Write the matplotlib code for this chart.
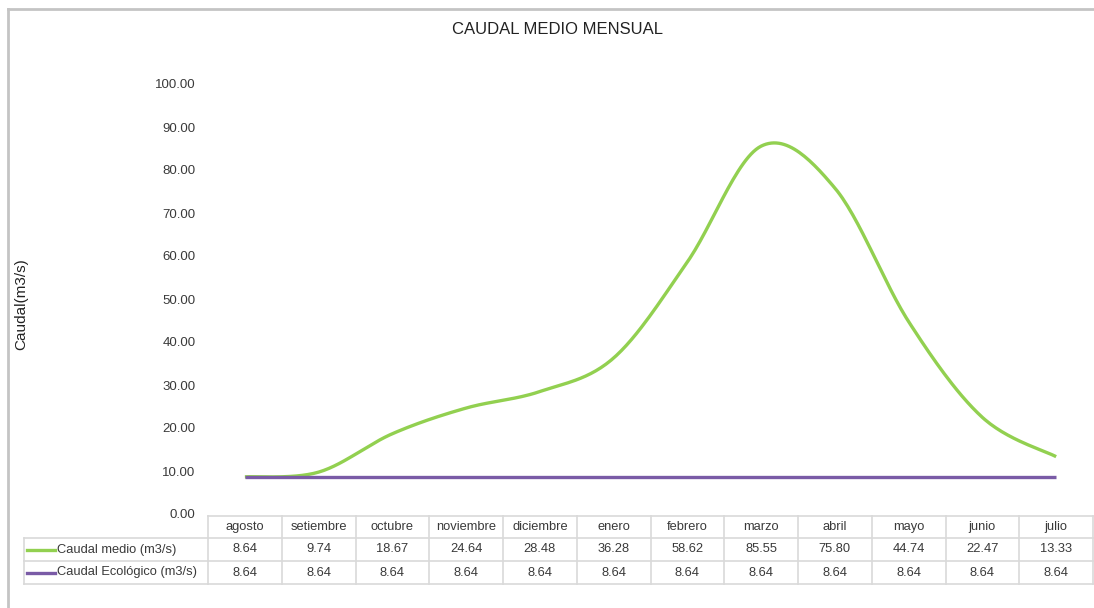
import numpy as np
import matplotlib
matplotlib.use("Agg")
import matplotlib.pyplot as plt
from matplotlib import transforms
from matplotlib.lines import Line2D

plt.rcParams['font.family'] = ['Liberation Sans Narrow', 'Liberation Sans', 'DejaVu Sans']

months = ["agosto", "setiembre", "octubre", "noviembre", "diciembre", "enero",
          "febrero", "marzo", "abril", "mayo", "junio", "julio"]
caudal_medio = [8.64, 9.74, 18.67, 24.64, 28.48, 36.28, 58.62, 85.55, 75.80, 44.74, 22.47, 13.33]
caudal_ecologico = [8.64] * 12
series_names = ["Caudal medio (m3/s)", "Caudal Ecológico (m3/s)"]
series_colors = ["#92D050", "#7A5BA6"]
y_ticks = [0, 10, 20, 30, 40, 50, 60, 70, 80, 90, 100]

W, H = 1094, 608


def fx(px):
    return px / W


def fy(py):
    return 1 - py / H


def smooth(xs, ys, n=30):
    """Bezier smoothing through every point (spreadsheet-style smoothed line)."""
    p = np.column_stack([xs, ys]).astype(float)
    p_ext = np.vstack([p[0], p, p[-1]])
    out = []
    for i in range(len(p) - 1):
        p0, p1, p2, p3 = p_ext[i], p_ext[i + 1], p_ext[i + 2], p_ext[i + 3]
        c1 = p1 + (p2 - p0) / 6
        c2 = p2 - (p3 - p1) / 6
        t = np.linspace(0, 1, n)[:, None]
        seg = ((1 - t) ** 3) * p1 + 3 * ((1 - t) ** 2) * t * c1 + 3 * (1 - t) * t ** 2 * c2 + t ** 3 * p2
        out.append(seg if i == 0 else seg[1:])
    seg = np.vstack(out)
    return seg[:, 0], seg[:, 1]


fig = plt.figure(figsize=(W / 100, H / 100), dpi=100)

# outer chart frame
frame_col = "#C4C4C4"
fig.add_artist(Line2D([fx(8), fx(W + 5)], [fy(9), fy(9)], color=frame_col, lw=2))
fig.add_artist(Line2D([fx(8), fx(8)], [fy(9), fy(H + 5)], color=frame_col, lw=2))

ax = fig.add_axes([fx(208), fy(514), fx(1093) - fx(208), fy(84) - fy(514)])
x = np.arange(len(months))
ax.set_xlim(-0.5, len(months) - 0.5)
ax.set_ylim(0, 100)
for s in ax.spines.values():
    s.set_visible(False)
ax.set_xticks([])
ax.set_yticks(y_ticks)
ax.set_yticklabels([f"{v:.2f}" for v in y_ticks], fontsize=9.5, color="#3A3A3A")
ax.tick_params(axis="y", length=0, pad=9)

sx, sy = smooth(x, caudal_medio)
ax.plot(sx, sy, color=series_colors[0], lw=2.4, solid_capstyle="butt")
ex, ey = smooth(x, caudal_ecologico)
ax.plot(ex, ey, color=series_colors[1], lw=2.4, solid_capstyle="butt")

ax.set_ylabel("Caudal(m3/s)", fontsize=11, color="#222222")
ax.yaxis.set_label_coords(fx(28), 0.5, transform=fig.transFigure)

fig.text(fx(557), fy(30), "CAUDAL MEDIO MENSUAL", ha="center", va="center",
         fontsize=12, color="#222222")

# data table under the plot
grid_col = "#D9D9D9"
tr = transforms.blended_transform_factory(ax.transData, fig.transFigure)
rows_y = [516, 538, 561, 584]
x_lo, x_hi = -0.5, len(months) - 0.5
for i, ry in enumerate(rows_y):
    ax.add_line(Line2D([x_lo, x_hi], [fy(ry)] * 2, transform=tr, color=grid_col, lw=1.2, clip_on=False))
for b in np.arange(len(months) + 1) - 0.5:
    ax.add_line(Line2D([b, b], [fy(516), fy(584)], transform=tr, color=grid_col, lw=1.2, clip_on=False))
for ry in rows_y[1:]:
    fig.add_artist(Line2D([fx(24), fx(208)], [fy(ry)] * 2, color=grid_col, lw=1.2))
fig.add_artist(Line2D([fx(24), fx(24)], [fy(538), fy(584)], color=grid_col, lw=1.2))

cell_fs = 9.3
for i, m in enumerate(months):
    ax.text(i, fy(527), m, transform=tr, ha="center", va="center", fontsize=cell_fs, color="#3A3A3A")
    ax.text(i, fy(549.5), f"{caudal_medio[i]:.2f}", transform=tr, ha="center", va="center",
            fontsize=cell_fs, color="#3A3A3A")
    ax.text(i, fy(572.5), f"{caudal_ecologico[i]:.2f}", transform=tr, ha="center", va="center",
            fontsize=cell_fs, color="#3A3A3A")

for name, col, ry in zip(series_names, series_colors, [549.5, 572.5]):
    fig.add_artist(Line2D([fx(27), fx(55)], [fy(ry)] * 2, color=col, lw=2.4))
    fig.text(fx(57), fy(ry), name, ha="left", va="center", fontsize=cell_fs, color="#3A3A3A")

fig.savefig("out.png", dpi=100)
